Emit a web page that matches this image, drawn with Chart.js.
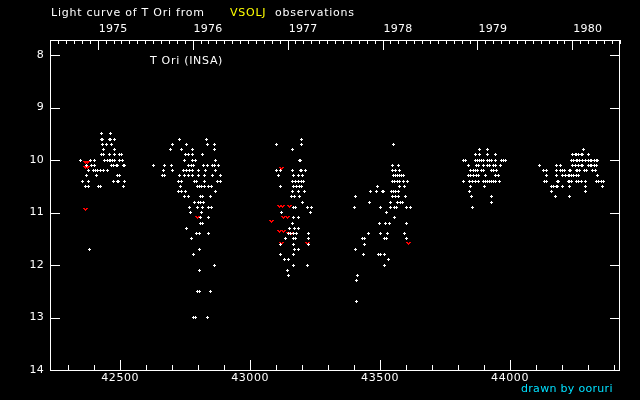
<!DOCTYPE html>
<html>
<head>
<meta charset="utf-8">
<title>Light curve of T Ori</title>
<script src="https://cdn.jsdelivr.net/npm/chart.js@4.4.1/dist/chart.umd.min.js"></script>
<style>
  html, body { margin: 0; padding: 0; background: #000; }
  canvas { display: block; }
</style>
</head>
<body>
<canvas id="lightCurve" width="640" height="400"></canvas>
<script>
// visual estimates, one row per magnitude: [mag, JD-2400000, ...]
const season1975 = [
  [9.5, 42429, 42464],
  [9.6, 42427, 42432, 42457, 42462, 42478],
  [9.7, 42432, 42447, 42466],
  [9.8, 42435, 42478],
  [9.9, 42430, 42434, 42457, 42480, 42497, 42507],
  [10.0, 42347, 42385, 42401, 42441, 42451, 42457, 42464, 42471, 42480, 42497, 42510],
  [10.1, 42370, 42389, 42401, 42468, 42475, 42486, 42490, 42511, 42515],
  [10.2, 42378, 42397, 42406, 42414, 42423, 42437, 42452],
  [10.3, 42370, 42409, 42489, 42496],
  [10.4, 42355, 42379, 42474, 42489, 42493, 42516],
  [10.5, 42365, 42379, 42418, 42425, 42513],
  [11.7, 42382]
];

const season1976 = [
  [9.6, 42728, 42832],
  [9.7, 42700, 42754, 42836, 42863],
  [9.8, 42695, 42737, 42777, 42863],
  [9.9, 42753, 42764, 42780, 42817],
  [10.0, 42749, 42777, 42789, 42867],
  [10.1, 42628, 42669, 42699, 42764, 42776, 42783, 42821, 42836, 42855, 42863, 42878],
  [10.2, 42667, 42700, 42745, 42757, 42767, 42777, 42801, 42830, 42867],
  [10.3, 42662, 42671, 42728, 42748, 42763, 42780, 42801, 42825, 42855, 42886],
  [10.4, 42723, 42736, 42785, 42793, 42825, 42875, 42886],
  [10.5, 42732, 42796, 42804, 42814, 42825, 42840, 42851],
  [10.6, 42724, 42737, 42750, 42866],
  [10.7, 42748, 42764, 42809, 42817, 42848],
  [10.8, 42786, 42801, 42809, 42819],
  [10.9, 42767, 42798, 42818, 42840, 42851],
  [11.0, 42771, 42812],
  [11.1, 42809, 42839],
  [11.2, 42809, 42818],
  [11.3, 42755],
  [11.4, 42794, 42804, 42840],
  [11.5, 42776],
  [11.7, 42805],
  [11.8, 42782],
  [12.0, 42864],
  [12.1, 42805],
  [12.5, 42798, 42805, 42848],
  [13.0, 42782, 42790, 42836]
];

const season1977 = [
  [9.6, 43197],
  [9.7, 43102, 43198],
  [9.8, 43163],
  [10.0, 43189, 43194],
  [10.2, 43102, 43117, 43163, 43192, 43197, 43214],
  [10.3, 43110, 43167, 43187, 43202],
  [10.4, 43163, 43175, 43187, 43198, 43206],
  [10.5, 43117, 43167, 43179, 43190, 43199],
  [10.6, 43163, 43187, 43210],
  [10.7, 43160, 43171, 43190],
  [10.8, 43202],
  [10.9, 43165, 43175, 43221, 43237],
  [11.0, 43121, 43233],
  [11.1, 43165, 43187],
  [11.2, 43163],
  [11.3, 43152, 43171, 43187],
  [11.4, 43148, 43156, 43167, 43178, 43225],
  [11.5, 43137, 43165, 43175, 43225],
  [11.6, 43117, 43167, 43225],
  [11.7, 43171, 43187],
  [11.8, 43117, 43167],
  [11.9, 43133, 43148],
  [12.0, 43167, 43221],
  [12.1, 43144],
  [12.2, 43148]
];

const season1978 = [
  [9.7, 43553],
  [10.1, 43549, 43572],
  [10.2, 43549, 43560, 43576],
  [10.3, 43553, 43560, 43568, 43576, 43583, 43591],
  [10.4, 43549, 43556, 43568, 43576, 43591, 43607],
  [10.5, 43491, 43576, 43595],
  [10.6, 43464, 43487, 43510, 43514, 43545, 43553, 43560, 43572],
  [10.7, 43406, 43549, 43560, 43572, 43599],
  [10.8, 43460, 43541, 43568, 43580, 43587],
  [10.9, 43402, 43502, 43541, 43556, 43564, 43603, 43618],
  [11.0, 43526],
  [11.1, 43556],
  [11.2, 43499, 43522, 43537, 43603],
  [11.4, 43456, 43502, 43529, 43595],
  [11.5, 43433, 43441, 43518, 43526, 43603],
  [11.6, 43441],
  [11.7, 43406],
  [11.8, 43437, 43495, 43502, 43518],
  [11.9, 43533],
  [12.0, 43518],
  [12.2, 43414],
  [12.3, 43410],
  [12.7, 43410]
];

const season1979 = [
  [9.8, 43884, 43915],
  [9.9, 43868, 43884, 43915, 43945],
  [10.0, 43822, 43830, 43868, 43876, 43884, 43891, 43899, 43915, 43922, 43930, 43945, 43969, 43976, 43984],
  [10.1, 43841, 43872, 43880, 43899, 43915, 43922, 43938, 43945, 43965],
  [10.2, 43849, 43861, 43868, 43876, 43891, 43899, 43930, 43938, 43949],
  [10.3, 43841, 43849, 43861, 43872, 43880, 43907, 43945, 43957],
  [10.4, 43822, 43845, 43857, 43868, 43880, 43899, 43907, 43915, 43922, 43930, 43938, 43945, 43961],
  [10.5, 43849, 43903],
  [10.6, 43845],
  [10.7, 43853, 43930],
  [10.8, 43930],
  [10.9, 43857]
];

const season1980 = [
  [9.8, 44284],
  [9.9, 44242, 44250, 44257, 44265, 44273, 44280, 44300],
  [10.0, 44238, 44246, 44254, 44261, 44269, 44277, 44292, 44300, 44308, 44315, 44323, 44331, 44338],
  [10.1, 44115, 44177, 44196, 44242, 44250, 44265, 44273, 44280, 44300, 44308, 44315, 44323, 44331],
  [10.2, 44130, 44142, 44177, 44196, 44203, 44211, 44227, 44234, 44254, 44261, 44269, 44288, 44296, 44319, 44327],
  [10.3, 44142, 44177, 44203, 44215, 44223, 44230, 44238, 44246, 44254, 44265, 44338],
  [10.4, 44134, 44142, 44184, 44188, 44223, 44230, 44238, 44257, 44265, 44273, 44292, 44331, 44342, 44350, 44358],
  [10.5, 44161, 44169, 44177, 44184, 44200, 44227, 44292, 44354],
  [10.6, 44161, 44292],
  [10.7, 44173, 44227]
];

// "fainter than" estimates: [JD-2400000, mag]
const fainterThan = [
  [42366, 10.05], [42374, 10.05], [42368, 10.15], [42376, 10.15], [42367, 10.95],
  [42798, 11.09],
  [43121, 10.17], [43113, 10.88], [43126, 10.88], [43152, 10.88],
  [43129, 11.09], [43142, 11.09], [43083, 11.17],
  [43113, 11.37], [43129, 11.37], [43148, 11.4], [43161, 11.4],
  [43122, 11.59], [43219, 11.59],
  [43610, 11.59]
];

const magTicks = [8, 9, 10, 11, 12, 13, 14];
const jdTicks = [42500, 43000, 43500, 44000];
const years = [1975, 1976, 1977, 1978, 1979, 1980];
const yearStartJD = [42413.5, 42778.5, 43144.5, 43509.5, 43874.5, 44239.5];

const jdMin = 42230;
const jdMax = 44423;
const magBright = 7.714;
const magFaint = 14;

function rowsToPoints(rows) {
  const points = [];
  rows.forEach(([mag, ...jds]) => {
    jds.forEach(jd => points.push({ x: jd, y: mag }));
  });
  return points;
}

function makeMarker(w, h, color, pixels) {
  const c = document.createElement("canvas");
  c.width = w;
  c.height = h;
  const ctx = c.getContext("2d");
  ctx.fillStyle = color;
  pixels.forEach(([x, y]) => ctx.fillRect(x, y, 1, 1));
  return c;
}

const plusMarker = makeMarker(3, 3, "#ffffff", [[1, 0], [0, 1], [1, 1], [2, 1], [1, 2]]);
const vMarker = makeMarker(5, 3, "#ff0000",
  [[0, 0], [1, 0], [3, 0], [4, 0], [1, 1], [2, 1], [3, 1], [2, 2]]);

const visualPoints = [season1975, season1976, season1977, season1978, season1979, season1980]
  .flatMap(rowsToPoints);
const fainterPoints = fainterThan.map(([jd, mag]) => ({ x: jd, y: mag }));

function putText(ctx, text, x, y, color, align, baseline, spacing) {
  ctx.fillStyle = color;
  ctx.textAlign = align;
  ctx.textBaseline = baseline;
  if ("letterSpacing" in ctx) ctx.letterSpacing = spacing + "px";
  ctx.fillText(text, x, y);
  if ("letterSpacing" in ctx) ctx.letterSpacing = "0px";
}

// snap the little bitmap markers onto whole pixels so they stay crisp
let plainDrawImage = null;

const framePlugin = {
  id: "frame",
  beforeDraw(chart) {
    const ctx = chart.ctx;
    ctx.save();
    ctx.fillStyle = "#000";
    ctx.fillRect(0, 0, chart.width, chart.height);
    ctx.restore();
  },
  beforeDatasetsDraw(chart) {
    const ctx = chart.ctx;
    plainDrawImage = ctx.drawImage;
    ctx.drawImage = function (img, dx, dy, w, h) {
      const m = ctx.getTransform();
      const px = Math.round(m.e + dx);
      const py = Math.round(m.f + dy);
      ctx.save();
      ctx.setTransform(1, 0, 0, 1, 0, 0);
      ctx.imageSmoothingEnabled = false;
      plainDrawImage.call(ctx, img, px, py, w, h);
      ctx.restore();
    };
  },
  afterDatasetsDraw(chart) {
    if (plainDrawImage) {
      delete chart.ctx.drawImage;
      plainDrawImage = null;
    }
  },
  afterDraw(chart) {
    const ctx = chart.ctx;
    const { left, right, top, bottom } = chart.chartArea;
    const xs = chart.scales.x;
    const ys = chart.scales.y;
    const L = Math.round(left), R = Math.round(right) - 1;
    const T = Math.round(top), B = Math.round(bottom);

    ctx.save();
    ctx.fillStyle = "#fff";
    // box
    ctx.fillRect(L, T, R - L + 1, 1);
    ctx.fillRect(L, B, R - L + 1, 1);
    ctx.fillRect(L, T, 1, B - T + 1);
    ctx.fillRect(R, T, 1, B - T + 1);

    // magnitude ticks, both sides
    magTicks.forEach(m => {
      const y = Math.round(ys.getPixelForValue(m));
      ctx.fillRect(L, y, 10, 1);
      ctx.fillRect(R - 9, y, 10, 1);
    });

    // JD ticks along the bottom
    for (let jd = Math.ceil(jdMin / 100) * 100; jd <= jdMax; jd += 100) {
      const x = Math.round(xs.getPixelForValue(jd));
      const len = jd % 500 === 0 ? 10 : 5;
      ctx.fillRect(x, B - len, 1, len);
    }

    // month / year ticks along the top
    const month = 365.25 / 12;
    for (let k = -12; k <= 84; k++) {
      const jd = yearStartJD[0] + k * month;
      if (jd < jdMin || jd > jdMax) continue;
      const x = Math.round(xs.getPixelForValue(jd));
      const len = k % 12 === 0 ? 10 : 4;
      ctx.fillRect(x, T, 1, len);
    }

    ctx.font = "11px 'DejaVu Sans'";
    magTicks.forEach(m => {
      putText(ctx, String(m), 44, ys.getPixelForValue(m), "#fff", "right", "middle", 0.3);
    });
    jdTicks.forEach(jd => {
      putText(ctx, String(jd), xs.getPixelForValue(jd), 373, "#fff", "center", "top", 0.6);
    });
    years.forEach((yr, i) => {
      putText(ctx, String(yr), xs.getPixelForValue(yearStartJD[i]) + 1, 31.5, "#fff", "left", "alphabetic", 0.2);
    });

    putText(ctx, "Light curve of T Ori from", 51, 16, "#fff", "left", "alphabetic", 0.75);
    putText(ctx, "VSOLJ", 230, 16, "#ffff00", "left", "alphabetic", 0.75);
    putText(ctx, "observations", 275, 16, "#fff", "left", "alphabetic", 0.75);
    putText(ctx, "T Ori (INSA)", 150, 64, "#fff", "left", "alphabetic", 0.7);
    putText(ctx, "drawn by ooruri", 521, 392, "#00e0ff", "left", "alphabetic", 0.3);
    ctx.restore();
  }
};

new Chart(document.getElementById("lightCurve"), {
  type: "scatter",
  data: {
    datasets: [
      {
        label: "visual",
        data: visualPoints,
        pointStyle: plusMarker,
        pointRadius: 2,
        pointHoverRadius: 2
      },
      {
        label: "fainter than",
        data: fainterPoints,
        pointStyle: vMarker,
        pointRadius: 3,
        pointHoverRadius: 3
      }
    ]
  },
  options: {
    responsive: false,
    animation: false,
    events: [],
    layout: {
      padding: { left: 50, right: 20, top: 40, bottom: 30 }
    },
    scales: {
      x: {
        type: "linear",
        display: false,
        min: jdMin,
        max: jdMax
      },
      y: {
        type: "linear",
        display: false,
        reverse: true,
        min: magBright,
        max: magFaint
      }
    },
    plugins: {
      legend: { display: false },
      tooltip: { enabled: false }
    }
  },
  plugins: [framePlugin]
});
</script>
</body>
</html>
